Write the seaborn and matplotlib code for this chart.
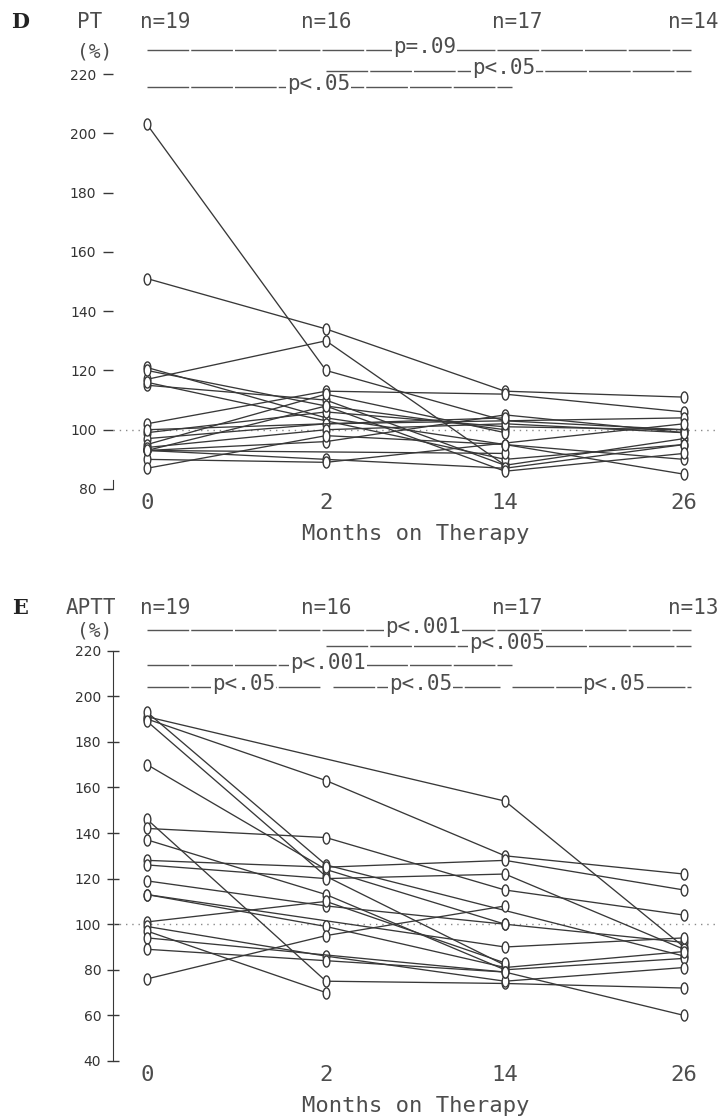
import numpy as np
import pandas as pd
import matplotlib
matplotlib.use("Agg")
import matplotlib.pyplot as plt
import matplotlib.transforms as mtransforms
from matplotlib.path import Path
import seaborn as sns

nan = np.nan
months = ["0", "2", "14", "26"]

# PT (%) per patient at each visit, NaN = no sample
pt_m0 = [203, 151, 117, 121, 120, 115, 116, 102, 99, 97, 95, 93, 93, 93, 94, 90, 87, 93, 100]
pt_m2 = [120, 134, 130, 104, 108, 110, nan, 113, 106, 102, 112, 96, nan, 90, 100, 89, 98, 108, nan]
pt_m14 = [103, 113, 88, 95, 100, 88, 90, 112, 101, nan, 99, 105, 92, 87, 102, nan, 95, 86, 104]
pt_m26 = [100, 111, nan, 90, nan, 97, 95, 106, 100, 104, nan, 99, nan, 95, 99, 102, 85, 92, nan]
pt_n = ["n=19", "n=16", "n=17", "n=14"]

# APTT (%) per patient at each visit
aptt_m0 = [190, 191, 193, 189, 170, 146, 142, 137, 128, 126, 119, 113, 113, 101, 99, 97, 94, 89, 76]
aptt_m2 = [163, nan, 126, 121, 124, 75, 138, 113, 125, 120, 108, nan, 99, 110, 86, 70, nan, 84, 95]
aptt_m14 = [130, 154, nan, 82, 100, 74, 115, 80, 128, 122, 100, 90, 81, 83, 75, nan, 79, 79, 108]
aptt_m26 = [122, 90, 86, nan, 92, 72, 104, 85, 115, 89, nan, 94, 88, nan, 81, nan, 60, nan, nan]
aptt_n = ["n=19", "n=16", "n=17", "n=13"]

# significance bars: (from visit, to visit, level, label, label position)
pt_bars = [(0, 3, 228, "p=.09", 1.55),
           (1, 3, 221, "p<.05", 1.99),
           (0, 2, 215.5, "p<.05", 0.96)]
aptt_bars = [(0, 3, 229, "p<.001", 1.54),
             (1, 3, 222, "p<.005", 2.01),
             (0, 2, 213.5, "p<.001", 1.01),
             (0, 1, 204, "p<.05", 0.54),
             (1, 2, 204, "p<.05", 1.53),
             (2, 3, 204, "p<.05", 2.61)]

INK = "#383838"
TXT = "#4d4d4d"
MONO = "DejaVu Sans Mono"


def long_table(cols):
    rows = []
    for pid in range(len(cols[0])):
        for month, vals in zip(months, cols):
            if not np.isnan(vals[pid]):
                rows.append((pid, month, vals[pid]))
    return pd.DataFrame(rows, columns=["patient", "month", "value"])


ring = Path.unit_circle().transformed(mtransforms.Affine2D().scale(0.6, 1.0))

sns.set_style("white")
fig = plt.figure(figsize=(7.18, 11.18), dpi=100)


def panel(ax, cols, name, letter, nlabels, bars, ylim, yticks, full_spine):
    df = long_table(cols)
    sns.lineplot(data=df, x="month", y="value", units="patient", estimator=None,
                 sort=False, color=INK, lw=0.95, marker=ring, markersize=8,
                 markerfacecolor="white", markeredgecolor=INK, markeredgewidth=1.0,
                 ax=ax, zorder=3)
    ax.axhline(100, ls=(0, (1, 3.5)), color="#8a8a8a", lw=1, zorder=1)
    ax.set_xlim(-0.19, 3.19)
    ax.set_ylim(*ylim)
    ax.set_yticks(yticks)
    ax.set_yticklabels([str(t) for t in yticks], fontsize=10, color="#333333",
                       family="DejaVu Sans")
    ax.set_xticks(range(len(months)))
    ax.set_xticklabels(months, family=MONO, fontsize=16, color=TXT)
    ax.tick_params(axis="x", bottom=False, length=0, pad=3)
    ax.set_xlabel("Months on Therapy", family=MONO, fontsize=16, color=TXT, labelpad=8)
    ax.set_ylabel("")
    for s in ["top", "right", "bottom"]:
        ax.spines[s].set_visible(False)
    ax.spines["left"].set_color(INK)
    if full_spine:
        ax.spines["left"].set_bounds(yticks[0], yticks[-1])
        ax.tick_params(axis="y", left=True, direction="inout", length=9, width=1.0,
                       color=INK, pad=4)
    else:
        ax.spines["left"].set_bounds(yticks[0], yticks[0] + 3)
        ax.tick_params(axis="y", left=True, direction="out", length=7, width=1.0,
                       color=INK, pad=5)

    row = bars[0][2] + 9.5
    ftrans = mtransforms.blended_transform_factory(fig.transFigure, ax.transData)
    ax.text(20 / 718, row, letter, transform=ftrans, family="DejaVu Serif",
            fontweight="bold", fontsize=15, color="#222222", ha="center", va="center")
    ax.text(77 / 718 if letter == "D" else 66 / 718, row, name, transform=ftrans,
            family=MONO, fontsize=15, color=TXT, ha="left", va="center")
    ax.text(77 / 718, bars[0][2] - 0.5, "(%)", transform=ftrans, family=MONO,
            fontsize=14, color=TXT, ha="left", va="center")
    for pos, lab in zip([0.1, 1.0, 2.07, 3.05], nlabels):
        ax.text(pos, row, lab, family=MONO, fontsize=15, color=TXT,
                ha="center", va="center")
    for a, b, lev, lab, lx in bars:
        x0 = a + 0.04 if (lev < 210 and a > 0) else a
        x1 = b - 0.03 if (lev < 210 and b < 3) else b + 0.04
        ax.plot([x0, x1], [lev, lev], color="#555555", lw=1.0,
                ls=(0, (30, 1.5)), clip_on=False, zorder=2)
        ax.text(lx, lev + 1.2, lab, family=MONO, fontsize=15, color=TXT,
                ha="center", va="center", zorder=4,
                bbox=dict(boxstyle="square,pad=0.05", fc="white", ec="none"))


ax_d = fig.add_axes([113 / 718, 1 - 489 / 1118, 605 / 718, 489 / 1118])
panel(ax_d, [pt_m0, pt_m2, pt_m14, pt_m26], "PT", "D", pt_n, pt_bars,
      (80, 80 + 489 / 2.964), [80, 100, 120, 140, 160, 180, 200, 220], False)

ax_e = fig.add_axes([113 / 718, 1 - 1061 / 1118, 605 / 718, 491 / 1118])
panel(ax_e, [aptt_m0, aptt_m2, aptt_m14, aptt_m26], "APTT", "E", aptt_n, aptt_bars,
      (40, 40 + 491 / 2.28), [40, 60, 80, 100, 120, 140, 160, 180, 200, 220], True)

fig.savefig("out.png", dpi=100, facecolor="white")
